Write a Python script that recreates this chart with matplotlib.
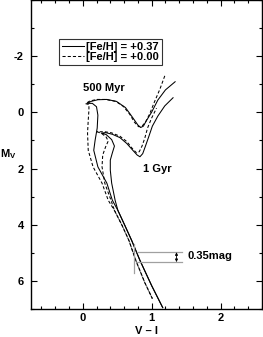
import matplotlib
matplotlib.use("Agg")
import matplotlib.pyplot as plt
from matplotlib.ticker import MultipleLocator

plt.rcParams['font.family'] = ['Liberation Sans', 'DejaVu Sans']
plt.rcParams['font.weight'] = 'bold'
plt.rcParams['axes.unicode_minus'] = False
plt.rcParams['mathtext.fontset'] = 'custom'
plt.rcParams['mathtext.bf'] = 'Liberation Sans:bold'
plt.rcParams['mathtext.rm'] = 'Liberation Sans:bold'

# 500 Myr, [Fe/H]=+0.37 (solid)
s500_x = [1.34, 1.20, 1.09, 1.00, 0.92, 0.88, 0.84, 0.80, 0.72, 0.62, 0.49, 0.35, 0.22, 0.12, 0.06,
          0.14, 0.20, 0.22, 0.21, 0.18, 0.16, 0.22, 0.35, 0.43, 0.51, 0.61, 0.71, 0.83, 1.00, 1.16]
s500_y = [-1.09, -0.80, -0.44, -0.01, 0.31, 0.49, 0.54, 0.45, 0.17, -0.17, -0.39, -0.46, -0.45, -0.39, -0.32,
          -0.32, -0.20, 0.10, 0.56, 0.99, 1.35, 1.94, 2.52, 3.13, 3.49, 4.02, 4.56, 5.27, 6.17, 6.95]
# 500 Myr, [Fe/H]=0.00 (dashed)
d500_x = [1.19, 1.12, 1.04, 0.97, 0.91, 0.86, 0.81, 0.75, 0.68, 0.59, 0.48, 0.33, 0.20, 0.10, 0.04,
          0.09, 0.09, 0.08, 0.07, 0.08, 0.15, 0.28, 0.37, 0.46, 0.57, 0.67, 0.77, 0.90, 1.01]
d500_y = [-1.30, -0.83, -0.37, 0.06, 0.35, 0.49, 0.51, 0.35, 0.06, -0.21, -0.39, -0.46, -0.46, -0.40, -0.31,
          -0.28, -0.08, 0.28, 0.74, 1.35, 1.94, 2.52, 3.13, 3.49, 4.02, 4.56, 5.27, 6.06, 6.63]
# 1 Gyr, [Fe/H]=+0.37 (solid)
s1g_x = [1.31, 1.19, 1.09, 1.01, 0.96, 0.91, 0.87, 0.83, 0.79, 0.73, 0.64, 0.54, 0.43, 0.33, 0.27,
         0.34, 0.42, 0.46, 0.43, 0.40, 0.40, 0.42, 0.47, 0.51, 0.61, 0.71, 0.83, 1.00, 1.16]
s1g_y = [-0.52, -0.23, 0.13, 0.49, 0.85, 1.20, 1.47, 1.58, 1.52, 1.36, 1.11, 0.90, 0.78, 0.72, 0.74,
         0.79, 0.97, 1.20, 1.44, 1.70, 2.06, 2.52, 3.13, 3.49, 4.02, 4.56, 5.27, 6.17, 6.95]
# 1 Gyr, [Fe/H]=0.00 (dashed)
d1g_x = [1.07, 1.00, 0.94, 0.90, 0.86, 0.82, 0.78, 0.72, 0.64, 0.54, 0.42, 0.32, 0.21,
         0.28, 0.34, 0.37, 0.33, 0.29, 0.28, 0.32, 0.41, 0.46, 0.57, 0.67, 0.77, 0.90, 1.01]
d1g_y = [-0.15, 0.20, 0.56, 0.92, 1.20, 1.40, 1.44, 1.29, 1.04, 0.85, 0.73, 0.69, 0.69,
         0.76, 0.88, 1.02, 1.24, 1.52, 1.94, 2.52, 3.13, 3.49, 4.02, 4.56, 5.27, 6.06, 6.63]

legend_labels = ['[Fe/H] = +0.37', '[Fe/H] = +0.00']
age_labels = ['500 Myr', '1 Gyr']
age_pos_x = [0.31, 1.08]
age_pos_y = [-0.85, 2.01]

# 0.35 mag marker
mark_y = [4.98, 5.33]
mark_x0, mark_x1 = 0.78, 1.44
mark_vx = 0.745
mark_vy = [4.68, 5.73]
arrow_x = 1.36
mark_label = '0.35mag'

xticks = [0, 1, 2]
yticks = [-2, 0, 2, 4, 6]

fig = plt.figure(figsize=(2.63, 3.37), dpi=100)
ax = fig.add_axes([31/263, 28/337, 231/263, 309/337])

lw = 0.75
dash = (0, (3, 2))
ax.plot(s500_x, s500_y, color='black', lw=lw, label=legend_labels[0])
ax.plot(d500_x, d500_y, color='black', lw=lw, ls=dash, label=legend_labels[1])
ax.plot(s1g_x, s1g_y, color='black', lw=lw)
ax.plot(d1g_x[::-1], d1g_y[::-1], color='black', lw=lw, ls=(1.5, (3, 2)))

fs = 8
for t, x, y in zip(age_labels, age_pos_x, age_pos_y):
    ax.text(x, y, t, ha='center', va='center', fontsize=fs, fontweight='bold')

for y in mark_y:
    ax.plot([mark_x0, mark_x1], [y, y], color='#a0a0a0', lw=0.9)
ax.plot([mark_vx, mark_vx], mark_vy, color='#a0a0a0', lw=0.9)
ax.annotate('', xy=(arrow_x, mark_y[0]), xytext=(arrow_x, mark_y[1]),
            arrowprops=dict(arrowstyle='<|-|>', color='black', lw=0.6,
                            mutation_scale=4, shrinkA=0, shrinkB=0))
ax.text(1.52, 5.12, mark_label, ha='left', va='center', fontsize=fs, fontweight='bold')

ax.set_xlim(-0.75, 2.6)
ax.set_ylim(7, -4)
ax.set_xticks(xticks)
ax.set_yticks(yticks)
ax.xaxis.set_minor_locator(MultipleLocator(0.2))
ax.yaxis.set_minor_locator(MultipleLocator(1))
ax.tick_params(which='both', direction='in', top=True, right=True, labelsize=fs)
ax.tick_params(axis='x', which='both', pad=3)
ax.tick_params(axis='y', which='both', pad=5)
ax.tick_params(which='major', length=4, width=0.8)
ax.tick_params(which='minor', length=2.5, width=0.8)
for lab in ax.get_xticklabels() + ax.get_yticklabels():
    lab.set_fontweight('bold')
for s in ax.spines.values():
    s.set_linewidth(1.0)

ax.set_xlabel('V – I', fontsize=fs, fontweight='bold', labelpad=2)
fig.text(8/263, 1 - 154/337, r'M$_\mathbf{V}$', fontsize=fs, fontweight='bold',
         ha='center', va='center')

leg = ax.legend(loc='upper left', bbox_to_anchor=((59-31)/231, 1 - 39/309),
                fontsize=fs, frameon=True, fancybox=False, edgecolor='black',
                handlelength=2.0, handletextpad=0.2, borderpad=0.25,
                labelspacing=0.05, borderaxespad=0)
leg.get_frame().set_linewidth(0.8)
for t in leg.get_texts():
    t.set_fontweight('bold')

fig.savefig('out.png', dpi=100)
